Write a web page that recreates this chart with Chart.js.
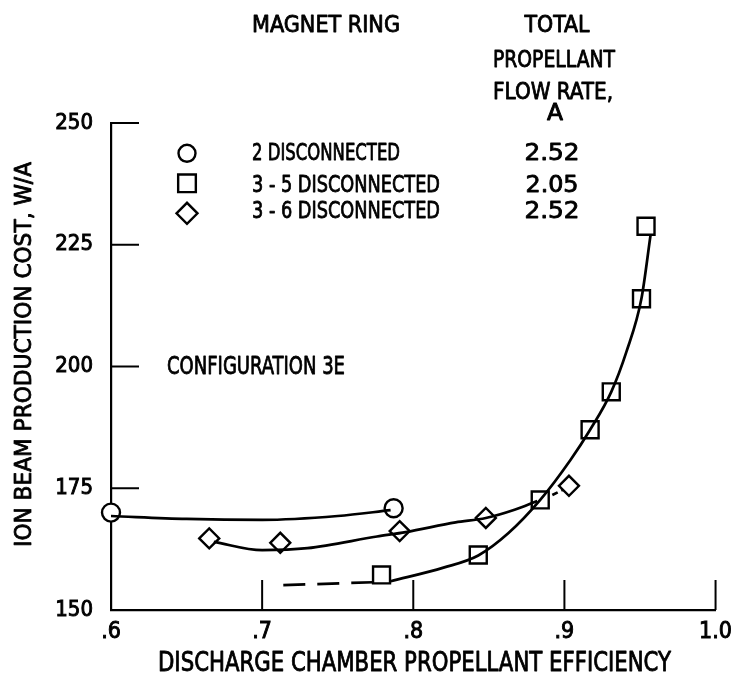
<!DOCTYPE html>
<html><head><meta charset="utf-8">
<script src="https://cdn.jsdelivr.net/npm/chart.js@4"></script>
<style>html,body{margin:0;padding:0;background:#fff}#wrap{width:740px;height:679px}</style>
</head><body><div id="wrap"><canvas id="c" width="740" height="679"></canvas></div>
<script>
// ---- data ----
const xTickValues = [0.6, 0.7, 0.8, 0.9, 1.0];
const xTickLabels = ['.6', '.7', '.8', '.9', '1.0'];
const yTickValues = [150, 175, 200, 225, 250];

const circleX = [0.600, 0.787];
const circleY = [170.0, 170.9];
const squareX = [0.779, 0.843, 0.884, 0.917, 0.931, 0.951, 0.954];
const squareY = [157.2, 161.3, 172.6, 187.0, 194.8, 213.9, 228.8];
const diamondX = [0.665, 0.712, 0.791, 0.848, 0.903];
const diamondY = [164.7, 163.8, 166.2, 168.9, 175.5];

// faired curves
const circleCurveX = [0.600, 0.650, 0.700, 0.750, 0.785];
const circleCurveY = [169.3, 168.7, 168.5, 169.3, 170.5];
const diamondCurveX = [0.668, 0.700, 0.730, 0.776, 0.795, 0.828, 0.848, 0.867, 0.882];
const diamondCurveY = [164.0, 162.3, 162.7, 165.1, 166.0, 168.0, 168.9, 170.6, 172.4];
const diamondDashX = [0.892, 0.899];
const diamondDashY = [173.6, 174.7];
const squareCurveX = [0.785, 0.820, 0.843, 0.863, 0.884, 0.904, 0.917, 0.931, 0.941, 0.951, 0.957];
const squareCurveY = [155.9, 158.7, 161.2, 165.8, 172.6, 180.8, 187.0, 194.8, 203.0, 214.0, 227.0];
const squareDashX = [0.714, 0.774];
const squareDashY = [155.1, 155.7];

const legendLabels = ['2 DISCONNECTED', '3 - 5 DISCONNECTED', '3 - 6 DISCONNECTED'];
const legendStyles = ['circle', 'rect', 'rectRot'];
const flowRates = ['2.52', '2.05', '2.52'];
const headerLeft = 'MAGNET RING';
const headerRight = ['TOTAL', 'PROPELLANT', 'FLOW RATE,', 'A'];
const configLabel = 'CONFIGURATION 3E';
const xTitle = 'DISCHARGE CHAMBER PROPELLANT EFFICIENCY';
const yTitle = 'ION BEAM PRODUCTION COST, W/A';

const FAMILY = "'Liberation Sans Narrow','DejaVu Sans Condensed','Liberation Sans',sans-serif";
const pts = (xs, ys) => xs.map((x, i) => ({x, y: ys[i]}));

const curve = (xs, ys, dash) => ({
  data: pts(xs, ys), showLine: true, pointRadius: 0, borderColor: '#000',
  borderWidth: 2.7, cubicInterpolationMode: 'monotone', borderDash: dash || [], fill: false, clip: false
});
const markers = (xs, ys, style, r) => ({
  data: pts(xs, ys), showLine: false, pointStyle: style, pointRadius: r, clip: false,
  pointBackgroundColor: '#fff', pointBorderColor: '#000', pointBorderWidth: 2.4
});

// draw text with cap-centre at y, horizontally fitted to a given width
function fitText(ctx, text, x, y, w, size, align, rot) {
  ctx.save();
  ctx.font = size + 'px ' + FAMILY;
  const m = ctx.measureText(text).width;
  ctx.translate(x, y);
  if (rot) ctx.rotate(rot);
  ctx.scale(w / m, 1);
  ctx.textAlign = align;
  ctx.textBaseline = 'alphabetic';
  ctx.fillStyle = '#000';
  ctx.strokeStyle = '#000';
  ctx.lineWidth = 0.8;
  ctx.lineJoin = 'round';
  ctx.fillText(text, 0, 0.36 * size);
  ctx.strokeText(text, 0, 0.36 * size);
  ctx.restore();
}

const decor = {
  id: 'decor',
  afterDatasetsDraw(chart) {
    const ctx = chart.ctx;
    const xs = chart.scales.x, ys = chart.scales.y;
    const area = chart.chartArea;
    ctx.save();
    ctx.strokeStyle = '#000';
    ctx.lineWidth = 2;
    // inward tick marks
    xTickValues.forEach(v => {
      if (v === xs.min) return;
      const px = xs.getPixelForValue(v);
      ctx.beginPath(); ctx.moveTo(px, area.bottom); ctx.lineTo(px, area.bottom - 30); ctx.stroke();
    });
    yTickValues.forEach(v => {
      if (v === ys.min) return;
      const py = ys.getPixelForValue(v);
      ctx.beginPath(); ctx.moveTo(area.left, py); ctx.lineTo(area.left + 28, py); ctx.stroke();
    });
    ctx.restore();

    // header + key
    fitText(ctx, headerLeft, 252, 23.5, 148, 23, 'left');
    const hx = [557, 554, 553, 555], hy = [23.5, 58.5, 91, 111.5], hw = [65, 122, 120, 16];
    headerRight.forEach((t, i) => fitText(ctx, t, hx[i], hy[i], hw[i], 23, 'center'));
    const ly = [152, 183.3, 210];
    const lw = [148, 188, 188];
    const vw = [55, 53, 55];
    const sy = [153.3, 183.3, 213.3];
    const sr = {circle: 8.5, rect: 12.5, rectRot: 10.5};
    legendLabels.forEach((t, i) => {
      fitText(ctx, t, 252, ly[i], lw[i], 23.5, 'left');
      fitText(ctx, flowRates[i], 552, ly[i], vw[i], 23, 'center');
      ctx.save();
      ctx.fillStyle = '#fff'; ctx.strokeStyle = '#000'; ctx.lineWidth = 2.4;
      Chart.helpers.drawPoint(ctx, {pointStyle: legendStyles[i], radius: sr[legendStyles[i]], rotation: 0, borderWidth: 2.4}, 187, sy[i]);
      ctx.restore();
    });
    fitText(ctx, configLabel, 167, 365, 178, 24.5, 'left');
    // axis titles
    fitText(ctx, xTitle, (158 + 671) / 2, 662, 513, 26, 'center');
    fitText(ctx, yTitle, 23, (162 + 547) / 2, 385, 23.5, 'center', -Math.PI / 2);
  }
};

new Chart(document.getElementById('c'), {
  type: 'scatter',
  data: {
    datasets: [
      curve(circleCurveX, circleCurveY),
      curve(diamondCurveX, diamondCurveY),
      curve(diamondDashX, diamondDashY, [6, 4]),
      curve(squareCurveX, squareCurveY),
      curve(squareDashX, squareDashY, [22, 12]),
      markers(circleX, circleY, 'circle', 9),
      markers(squareX, squareY, 'rect', 12),
      markers(diamondX, diamondY, 'rectRot', 10)
    ]
  },
  options: {
    responsive: false,
    animation: false,
    layout: {padding: {top: 123, right: 17, left: 0, bottom: 0}},
    plugins: {legend: {display: false}, tooltip: {enabled: false}},
    scales: {
      x: {
        type: 'linear', min: 0.6, max: 1.0,
        afterBuildTicks: s => { s.ticks = xTickValues.map(v => ({value: v})); },
        afterFit: s => { s.height = 69; },
        grid: {display: false, drawTicks: false},
        border: {display: true, color: '#000', width: 2.2},
        ticks: {
          color: '#000', padding: 8, maxRotation: 0,
          textStrokeColor: '#000', textStrokeWidth: 0.9,
          font: {family: FAMILY, size: 23},
          callback: (v) => { const i = xTickValues.findIndex(t => Math.abs(t - v) < 1e-9); return i >= 0 ? xTickLabels[i] : ''; }
        },
        title: {display: false}
      },
      y: {
        type: 'linear', min: 150, max: 250,
        afterBuildTicks: s => { s.ticks = yTickValues.map(v => ({value: v})); },
        afterFit: s => { s.width = 111; },
        grid: {display: false, drawTicks: false},
        border: {display: true, color: '#000', width: 2.2},
        ticks: {color: '#000', padding: 18, textStrokeColor: '#000', textStrokeWidth: 0.9, font: {family: FAMILY, size: 22}},
        title: {display: false}
      }
    }
  },
  plugins: [decor]
});
</script>
</body></html>
